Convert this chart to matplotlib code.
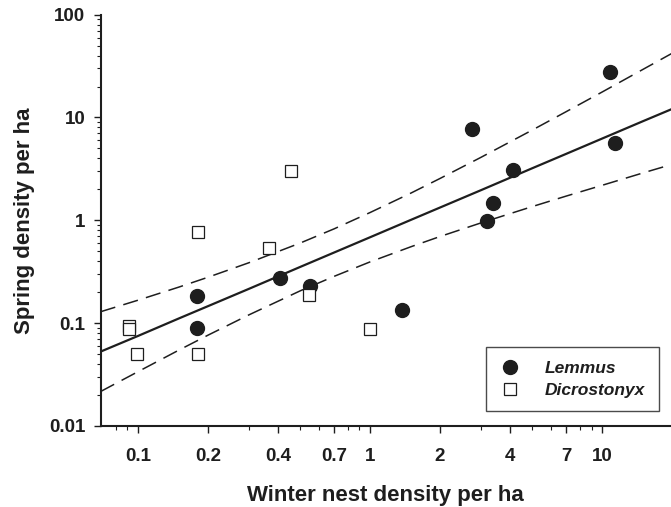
import matplotlib
matplotlib.use("Agg")
import matplotlib.pyplot as plt
from matplotlib.ticker import FixedLocator, NullFormatter, LogLocator

plt.rcParams['font.family'] = ['Liberation Sans', 'DejaVu Sans']
plt.rcParams['font.weight'] = 'bold'

# data
lemmus_x = [0.18, 0.18, 0.41, 0.55, 1.37, 2.74, 3.20, 3.40, 4.12, 10.8, 11.4]
lemmus_y = [0.182, 0.089, 0.273, 0.231, 0.135, 7.8, 0.98, 1.48, 3.07, 27.6, 5.67]

dicro_x = [0.091, 0.091, 0.099, 0.182, 0.182, 0.365, 0.455, 0.548, 1.0]
dicro_y = [0.093, 0.088, 0.050, 0.050, 0.77, 0.54, 3.0, 0.186, 0.088]

band_x = [0.069, 0.1, 0.15, 0.2, 0.3, 0.5, 0.7, 1, 1.5, 2, 3, 5, 7, 10, 15, 20]
fit_y = [0.0528, 0.075, 0.111, 0.146, 0.215, 0.352, 0.486, 0.684, 1.01, 1.33,
         1.96, 3.21, 4.43, 6.24, 9.21, 12.1]
upper_y = [0.129, 0.167, 0.224, 0.279, 0.386, 0.601, 0.826, 1.19, 1.84, 2.55,
           4.09, 7.55, 11.4, 17.7, 29.4, 42.1]
lower_y = [0.0216, 0.0337, 0.0546, 0.0762, 0.120, 0.206, 0.285, 0.394, 0.553,
           0.695, 0.942, 1.36, 1.72, 2.19, 2.89, 3.50]

x_ticks = [0.1, 0.2, 0.4, 0.7, 1, 2, 4, 7, 10]
x_labels = ["0.1", "0.2", "0.4", "0.7", "1", "2", "4", "7", "10"]
x_minor = [0.08, 0.09, 0.3, 0.5, 0.6, 0.8, 0.9, 3, 5, 6, 8, 9]
y_ticks = [0.01, 0.1, 1, 10, 100]
y_labels = ["0.01", "0.1", "1", "10", "100"]

ink = "#1e1e1e"

fig = plt.figure(figsize=(6.71, 5.07), dpi=100)
ax = fig.add_axes([0.150, 0.160, 0.850, 0.811])

ax.plot(band_x, fit_y, color=ink, lw=1.6, zorder=2)
ax.plot(band_x, upper_y, color=ink, lw=1.1, dashes=(10, 5.5), zorder=2)
ax.plot(band_x, lower_y, color=ink, lw=1.1, dashes=(10, 5.5), zorder=2)

ax.plot(lemmus_x, lemmus_y, 'o', color=ink, ms=10, mec=ink, label="Lemmus",
        zorder=3, clip_on=False)
ax.plot(dicro_x, dicro_y, 's', mfc="white", mec=ink, mew=0.9, ms=8,
        label="Dicrostonyx", zorder=4, clip_on=False)

ax.set_xscale("log")
ax.set_yscale("log")
ax.set_xlim(0.069, 19.8)
ax.set_ylim(0.01, 100)

ax.xaxis.set_major_locator(FixedLocator(x_ticks))
ax.set_xticklabels(x_labels)
ax.xaxis.set_minor_locator(FixedLocator(x_minor))
ax.xaxis.set_minor_formatter(NullFormatter())
ax.yaxis.set_major_locator(FixedLocator(y_ticks))
ax.set_yticklabels(y_labels)
ax.yaxis.set_minor_locator(LogLocator(base=10, subs=range(2, 10)))
ax.yaxis.set_minor_formatter(NullFormatter())

for side in ["top", "right"]:
    ax.spines[side].set_visible(False)
for side in ["left", "bottom"]:
    ax.spines[side].set_linewidth(1.5)
    ax.spines[side].set_color(ink)

ax.tick_params(which="major", length=5, width=1.0, color=ink, labelsize=13.5,
               labelcolor=ink)
ax.tick_params(which="minor", length=3, width=0.8, color=ink)
ax.tick_params(axis="x", which="major", pad=11)
ax.tick_params(axis="y", which="major", pad=6)

ax.set_xlabel("Winter nest density per ha", fontsize=16, fontweight="bold",
              color=ink, labelpad=14)
ax.set_ylabel("Spring density per ha", fontsize=16, fontweight="bold",
              color=ink, labelpad=10)

leg = ax.legend(loc="lower right", bbox_to_anchor=(0.9795, 0.035),
                borderaxespad=0, frameon=True, fancybox=False,
                prop={"style": "italic", "weight": "bold", "size": 12.5},
                handlelength=1.2, handletextpad=1.4, borderpad=0.8,
                labelspacing=0.35)
leg.get_frame().set_edgecolor(ink)
leg.get_frame().set_linewidth(1.0)
for t in leg.get_texts():
    t.set_color(ink)

fig.savefig("out.png", dpi=100)
